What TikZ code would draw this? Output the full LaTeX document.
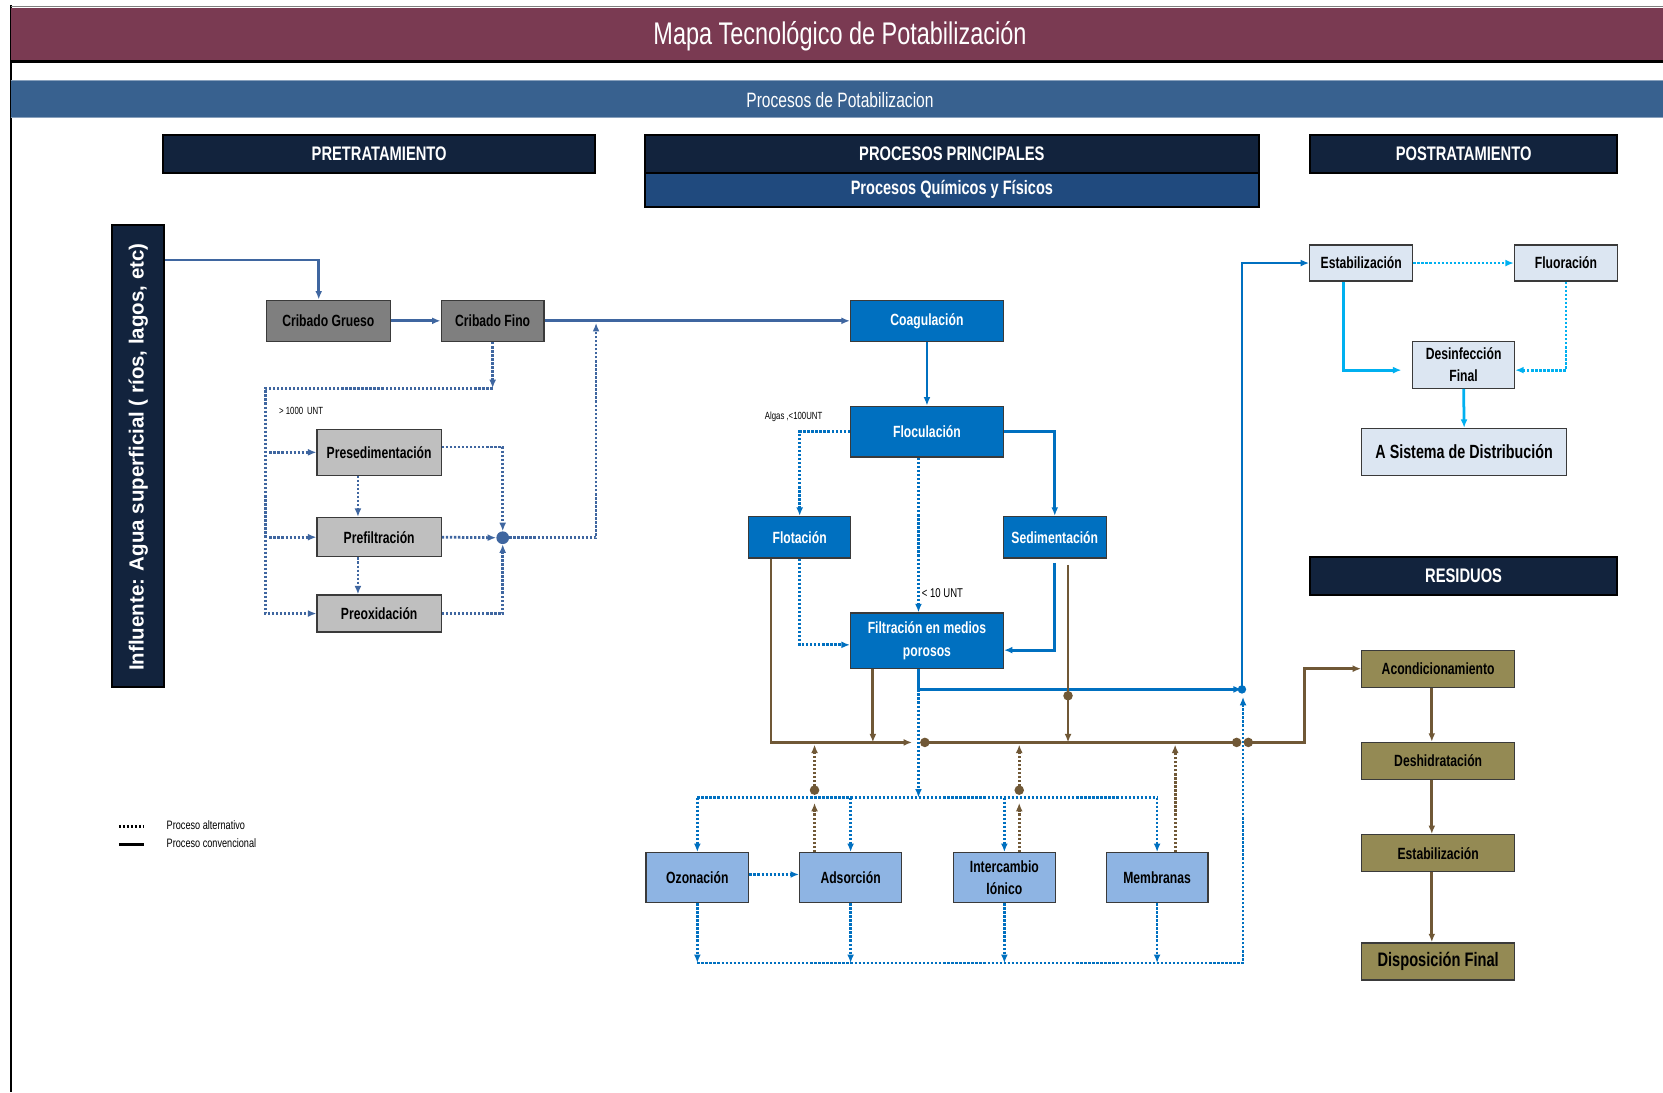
\documentclass[tikz,border=0pt]{standalone}
\usepackage{fontspec}
\setmainfont{Liberation Sans}
\newfontfamily\narrow[FakeStretch=0.75]{Liberation Sans}
\usetikzlibrary{arrows.meta,calc}

\definecolor{titlered}{RGB}{122,58,82}
\definecolor{bandblue}{RGB}{56,97,143}
\definecolor{navy}{RGB}{18,35,61}
\definecolor{chemblue}{RGB}{32,74,126}
\definecolor{grayD}{RGB}{127,127,127}
\definecolor{grayL}{RGB}{191,191,191}
\definecolor{mainblue}{RGB}{0,112,192}
\definecolor{altblue}{RGB}{142,180,227}
\definecolor{postfill}{RGB}{220,230,242}
\definecolor{olive}{RGB}{148,138,84}
\definecolor{steel}{RGB}{63,102,160}
\definecolor{cyanline}{RGB}{0,176,240}
\definecolor{brown}{RGB}{112,88,54}
\definecolor{boxline}{RGB}{58,58,58}

\tikzset{
  box/.style={draw=boxline, line width=1.2pt, inner sep=1pt, align=center,
    font={\narrow\bfseries\fontsize{15.3}{21}\selectfont}},
  hdr/.style={draw=black, line width=1.8pt, fill=navy, text=white, inner sep=0pt,
    font={\narrow\bfseries\fontsize{18.5}{20}\selectfont}},
  arr/.style={-{Latex[length=8pt,width=6.5pt]}},
  conv/.style={line width=2.6pt},
  altl/.style={line width=2.6pt, dash pattern=on 2.2pt off 1.6pt},
  small/.style={inner sep=0pt, anchor=west, font={\narrow\fontsize{9.8}{11}\selectfont}},
  dot/.style={circle, inner sep=0pt, minimum size=#1},
}

\begin{document}
\begin{tikzpicture}[x=1pt,y=-1pt]
\useasboundingbox (0,0) rectangle (1568,1030);
\fill[white] (0,0) rectangle (1568,1030);

% frame
\draw[line width=2pt] (10,5) -- (10,1030);
\draw[gray, line width=1pt] (10,6) -- (1568,6);

% title bar
\fill[titlered] (10,8) rectangle (1568,58);
\draw[line width=2.5pt] (10,58) -- (1568,58);
\node[text=white, font={\narrow\fontsize{29.5}{32}\selectfont}] (title) at (792,34)
  {Mapa Tecnológico de Potabilización};

% section band
\fill[bandblue] (10,76) rectangle (1568,111);
\draw[bandblue!60!white, line width=0.8pt] (10,76) -- (1568,76) (10,111) -- (1568,111);
\node[text=white, font={\narrow\fontsize{19.6}{22}\selectfont}] (band) at (792,94)
  {Procesos de Potabilizacion};

% column headers
\node[hdr, minimum width=407, minimum height=36] (pret) at (357.5,145) {PRETRATAMIENTO};
\node[hdr, minimum width=579, minimum height=36] (procp) at (897.5,145) {PROCESOS PRINCIPALES};
\node[hdr, fill=chemblue, minimum width=579, minimum height=32,
  font={\narrow\bfseries\fontsize{18.3}{20}\selectfont}] (quim) at (897.5,179) {Procesos Químicos y Físicos};
\node[hdr, minimum width=290, minimum height=36] (post) at (1380,145) {POSTRATAMIENTO};
\node[hdr, minimum width=290, minimum height=36] (resid) at (1380,543) {RESIDUOS};

% influent column
\node[hdr, minimum width=49, minimum height=436] (infl) at (130.5,430) {};
\node[rotate=90, text=white, font={\bfseries\fontsize{19.3}{21}\selectfont}] (infltext) at (130.5,431)
  {Influente: Agua superficial ( ríos, lagos, etc)};

% pretreatment
\node[box, fill=grayD, minimum width=117, minimum height=39] (cg) at (309.5,302.5) {Cribado Grueso};
\node[box, fill=grayD, minimum width=97, minimum height=39] (cf) at (464.5,302.5) {Cribado Fino};
\node[box, fill=grayL, minimum width=117, minimum height=43] (pres) at (357.5,426.5) {Presedimentación};
\node[box, fill=grayL, minimum width=117, minimum height=37] (pref) at (357.5,506.5) {Prefiltración};
\node[box, fill=grayL, minimum width=117, minimum height=35] (preo) at (357.5,578.5) {Preoxidación};

% main processes
\node[box, fill=mainblue, text=white, minimum width=144, minimum height=39] (coag) at (874,302.5) {Coagulación};
\node[box, fill=mainblue, text=white, minimum width=144, minimum height=48] (floc) at (874,407) {Floculación};
\node[box, fill=mainblue, text=white, minimum width=96, minimum height=39] (flot) at (754,506.5) {Flotación};
\node[box, fill=mainblue, text=white, minimum width=97, minimum height=39] (sed) at (994.5,506.5) {Sedimentación};
\node[box, fill=mainblue, text=white, minimum width=144, minimum height=52] (filt) at (874,604) {Filtración en medios\\porosos};

% alternative processes
\node[box, fill=altblue, minimum width=97, minimum height=47] (ozo) at (657.5,827.5) {Ozonación};
\node[box, fill=altblue, minimum width=96, minimum height=47] (ads) at (802,827.5) {Adsorción};
\node[box, fill=altblue, minimum width=96, minimum height=47] (inter) at (947,827.5) {Intercambio\\Iónico};
\node[box, fill=altblue, minimum width=96, minimum height=47] (memb) at (1091,827.5) {Membranas};

% post-treatment
\node[box, fill=postfill, minimum width=97, minimum height=34] (estab) at (1283.5,248) {Estabilización};
\node[box, fill=postfill, minimum width=97, minimum height=34] (fluor) at (1476.5,248) {Fluoración};
\node[box, fill=postfill, minimum width=96, minimum height=44] (desinf) at (1380,344) {Desinfección\\Final};
\node[box, fill=postfill, minimum width=193, minimum height=44,
  font={\narrow\bfseries\fontsize{18}{21}\selectfont}] (dist) at (1380.5,426) {A Sistema de Distribución};

% residues
\node[box, fill=olive, minimum width=144, minimum height=35] (acond) at (1356,630.5) {Acondicionamiento};
\node[box, fill=olive, minimum width=144, minimum height=35] (desh) at (1356,717.5) {Deshidratación};
\node[box, fill=olive, minimum width=144, minimum height=35] (estr) at (1356,804.5) {Estabilización};
\node[box, fill=olive, minimum width=144, minimum height=35,
  font={\narrow\bfseries\fontsize{18.4}{21}\selectfont}] (disp) at (1356,906.5) {Disposición Final};

% labels
\node[small] (l1000) at (263,387) {> 1000\, UNT};
\node[small] (lalg) at (721,393) {Algas ,<100UNT};
\node[small, font={\narrow\fontsize{12}{13}\selectfont}] (l10) at (869,559) {< 10 UNT};

% ---------- pretreatment connectors ----------
\draw[steel, conv, arr] ([yshift=-34pt]infl.north east) -| ([xshift=-9pt]cg.north);
\draw[steel, conv, arr] (cg.east) -- (cf.west);
\draw[steel, conv, arr] (cf.east) -- (coag.west);

\coordinate (cfturn) at (464.5,366);
\coordinate (lbus) at (250,366);
\draw[steel, altl, arr] (cf.south) -- (cfturn);
\draw[steel, altl, arr] (cfturn) -- (lbus) |- (preo.west);
\draw[steel, altl, arr] ([xshift=4pt]lbus |- pres.west) -- (pres.west);
\draw[steel, altl, arr] ([xshift=4pt]lbus |- pref.west) -- (pref.west);
\draw[steel, altl, arr] ([xshift=-20pt]pres.south) -- ([xshift=-20pt]pref.north);
\draw[steel, altl, arr] ([xshift=-20pt]pref.south) -- ([xshift=-20pt]preo.north);

\node[dot=12pt, fill=steel] (jn) at (474,507) {};
\draw[steel, altl, arr] ([yshift=5pt]pres.east) -| (jn.north);
\draw[steel, altl, arr] (pref.east) -- (jn.west);
\draw[steel, altl, arr] (preo.east) -| (jn.south);
\coordinate (merge) at (562,302.5);
\draw[steel, altl, arr] (jn.east) -| ([yshift=-2pt]merge);

% ---------- main process connectors ----------
\draw[mainblue, conv, arr] (coag.south) -- (floc.north);
\draw[mainblue, altl, arr] (floc.west) -| (flot.north);
\draw[mainblue, conv, arr] (floc.east) -| (sed.north);
\draw[mainblue, altl, arr] ([xshift=-8pt]floc.south) -- ([xshift=-8pt]filt.north);
\draw[mainblue, altl, arr] (flot.south) |- ([yshift=-4pt]filt.west);
\draw[mainblue, conv, arr] ([yshift=-4pt]sed.south) |- ([yshift=-9pt]filt.east);

\coordinate (fo) at (866,650);
\coordinate (up) at (1171,650);
\draw[mainblue, conv, arr] ([xshift=-8pt]filt.south) |- (up);
\node[dot=8pt, fill=mainblue] (updot) at (up) {};
\draw[mainblue, conv, arr] (up) |- (estab.west);

% alternative bus
\coordinate (ab) at (866,752);
\draw[mainblue, altl, arr] (fo) -- (ab);
\draw[mainblue, altl] (ozo.north |- ab) -- (memb.north |- ab);
\foreach \n in {ozo,ads,inter,memb}
  \draw[mainblue, altl, arr] (\n.north |- ab) -- (\n.north);
\draw[mainblue, altl, arr] ([yshift=3pt]ozo.east) -- ([yshift=3pt]ads.west);

\coordinate (bb) at (1172,908);
\foreach \n in {ozo,ads,inter,memb}
  \draw[mainblue, altl, arr] (\n.south) -- (\n.south |- bb);
\draw[mainblue, altl, arr] (ozo.south |- bb) -- (bb) -- ([yshift=-7pt]bb |- up);

% ---------- residue connectors ----------
\coordinate (wl) at (860,700);
\coordinate (wr1) at (872,700);
\coordinate (wr2) at (1166,700);
\coordinate (wr3) at (1177,700);
\draw[brown, conv, arr] ([xshift=-27pt]flot.south) |- (wl);
\draw[brown, conv, arr] ([xshift=-51pt]filt.south) -- ([xshift=-51pt]filt.south |- wl);
\draw[brown, conv] (wr1) -- (wr2);
\draw[brown, conv, arr] (wr3) -- (1230,700) |- (acond.west);
\foreach \c in {wr1,wr2,wr3} \node[dot=9pt, fill=brown] at (\c) {};

\coordinate (sdot) at (1007,656);
\draw[brown, conv, arr] ([xshift=12.5pt,yshift=-6pt]sed.south) -- ([yshift=-6pt]sdot);
\node[dot=9pt, fill=brown] (sd) at (sdot) {};
\draw[brown, conv, arr] (sdot) -- (sdot |- wr1);

\coordinate (adot) at (768,745);
\coordinate (idot) at (961,745);
\draw[brown, altl, arr] ([xshift=-34pt]ads.north) -- ([yshift=-12pt]adot);
\draw[brown, altl, arr] (adot) -- ([yshift=-2pt]adot |- wl);
\node[dot=9pt, fill=brown] at (adot) {};
\draw[brown, altl, arr] ([xshift=14pt]inter.north) -- ([yshift=-12pt]idot);
\draw[brown, altl, arr] (idot) -- ([yshift=-2pt]idot |- wl);
\node[dot=9pt, fill=brown] at (idot) {};
\draw[brown, altl, arr] ([xshift=17pt]memb.north) -- ([xshift=17pt,yshift=-2pt]memb.north |- wl);

\draw[brown, conv, arr] ([xshift=-6pt]acond.south) -- ([xshift=-6pt]desh.north);
\draw[brown, conv, arr] ([xshift=-6pt]desh.south) -- ([xshift=-6pt]estr.north);
\draw[brown, conv, arr] ([xshift=-6pt]estr.south) -- ([xshift=-6pt]disp.north);

% ---------- post-treatment connectors ----------
\draw[cyanline, altl, arr] (estab.east) -- (fluor.west);
\draw[cyanline, conv, arr] ([xshift=-16.5pt]estab.south) |- ([xshift=-10pt,yshift=-5pt]desinf.west);
\draw[cyanline, altl, arr] (fluor.south) |- ([yshift=-5pt]desinf.east);
\draw[cyanline, conv, arr] (desinf.south) -- (dist.north);

% legend
\coordinate (la) at (112,779);
\coordinate (lb) at (112,796);
\draw[black, altl] (la) -- ++(24,0);
\draw[black, line width=2.4pt] (lb) -- ++(24,0);
\node[small, font={\narrow\fontsize{11.5}{13}\selectfont}] (lalt) at (157,778) {Proceso alternativo};
\node[small, font={\narrow\fontsize{11.5}{13}\selectfont}] (lconv) at (157,795) {Proceso convencional};
\end{tikzpicture}
\end{document}
